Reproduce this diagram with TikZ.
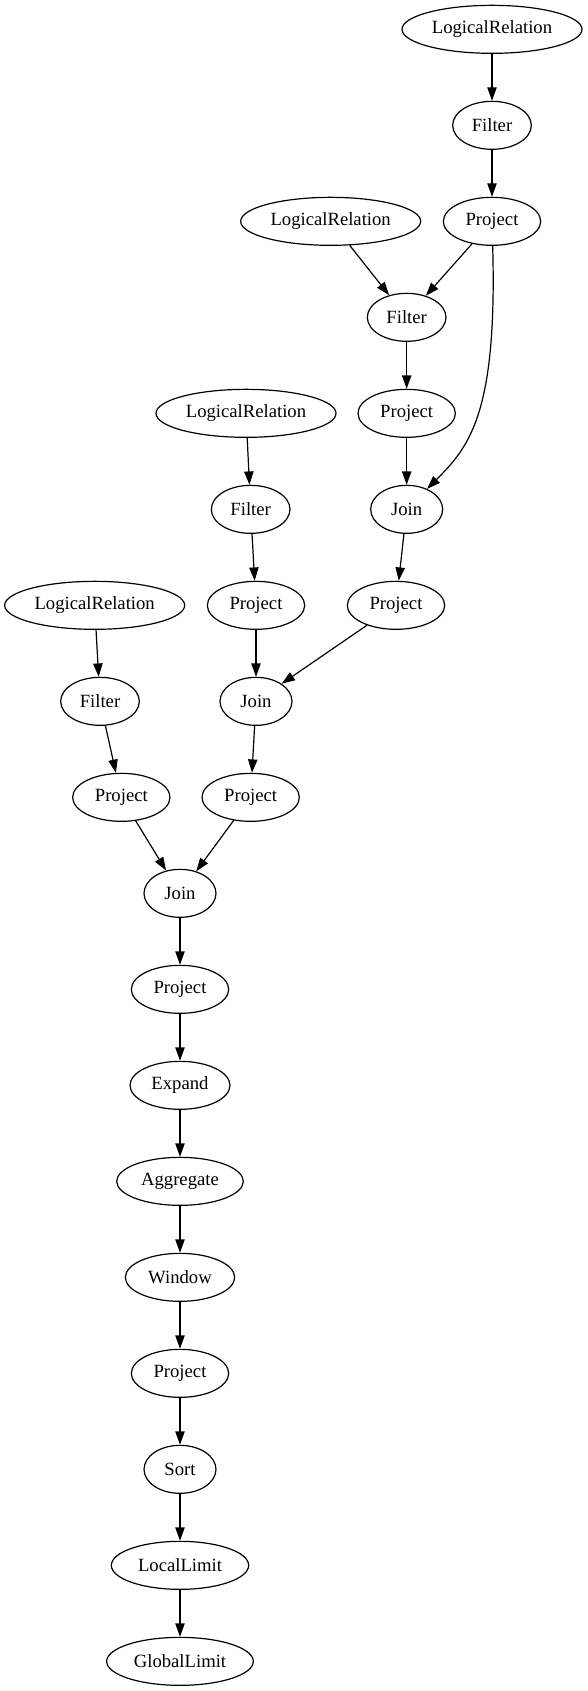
\documentclass[tikz,border=0pt]{standalone}
\usepackage{fontspec}
\setmainfont{Liberation Serif}
\usetikzlibrary{shapes.geometric,arrows.meta}
\begin{document}
\begin{tikzpicture}[x=1pt,y=-1pt,
  op/.style={draw, ellipse, line width=0.9pt, minimum height=36pt, inner sep=0pt, font=\fontsize{14}{16}\selectfont},
  edge/.style={draw, line width=0.9pt, -{Triangle[length=10pt,width=7pt]}}]
\useasboundingbox (0,0) rectangle (441,1268.25);
% upper right branch
\node[op, minimum width=135pt] (lr1) at (369,22) {LogicalRelation};
\node[op, minimum width=59pt] (f1) at (369,94) {Filter};
\node[op, minimum width=73pt] (p1) at (369,166) {Project};
\node[op, minimum width=135pt] (lr2) at (248,166) {LogicalRelation};
\node[op, minimum width=59pt] (f2) at (305,238) {Filter};
\node[op, minimum width=73pt] (p2) at (305,310) {Project};
\node[op, minimum width=54pt] (j1) at (305,382) {Join};
\node[op, minimum width=73pt] (p3) at (297,454) {Project};
% middle branch
\node[op, minimum width=135pt] (lr3) at (184.5,310) {LogicalRelation};
\node[op, minimum width=59pt] (f3) at (188,382) {Filter};
\node[op, minimum width=73pt] (p4) at (192,454) {Project};
\node[op, minimum width=54pt] (j2) at (192,526) {Join};
\node[op, minimum width=73pt] (p6) at (188,598) {Project};
% left branch
\node[op, minimum width=135pt] (lr4) at (71,454) {LogicalRelation};
\node[op, minimum width=59pt] (f4) at (75,526) {Filter};
\node[op, minimum width=73pt] (p5) at (91,598) {Project};
% trunk
\node[op, minimum width=54pt] (j3) at (135,670) {Join};
\node[op, minimum width=73pt] (p7) at (135,742) {Project};
\node[op, minimum width=75pt] (ex) at (135,814) {Expand};
\node[op, minimum width=95pt] (ag) at (135,886) {Aggregate};
\node[op, minimum width=82pt] (wi) at (135,958) {Window};
\node[op, minimum width=73pt] (p8) at (135,1030) {Project};
\node[op, minimum width=54pt] (so) at (135,1102) {Sort};
\node[op, minimum width=103pt] (ll) at (135,1174) {LocalLimit};
\node[op, minimum width=110pt] (gl) at (135,1246) {GlobalLimit};
% connectors
\draw[edge] (lr1) -- (f1);
\draw[edge] (f1) -- (p1);
\draw[edge] (lr2) -- (f2);
\draw[edge] (p1) -- (f2);
\draw[edge] (f2) -- (p2);
\draw[edge] (p2) -- (j1);
\draw[edge] (p1) .. controls (373,310) and (352,335) .. (j1);
\draw[edge] (j1) -- (p3);
\draw[edge] (lr3) -- (f3);
\draw[edge] (f3) -- (p4);
\draw[edge] (p4) -- (j2);
\draw[edge] (p3) -- (j2);
\draw[edge] (j2) -- (p6);
\draw[edge] (lr4) -- (f4);
\draw[edge] (f4) -- (p5);
\draw[edge] (p5) -- (j3);
\draw[edge] (p6) -- (j3);
\draw[edge] (j3) -- (p7);
\draw[edge] (p7) -- (ex);
\draw[edge] (ex) -- (ag);
\draw[edge] (ag) -- (wi);
\draw[edge] (wi) -- (p8);
\draw[edge] (p8) -- (so);
\draw[edge] (so) -- (ll);
\draw[edge] (ll) -- (gl);
\end{tikzpicture}
\end{document}
